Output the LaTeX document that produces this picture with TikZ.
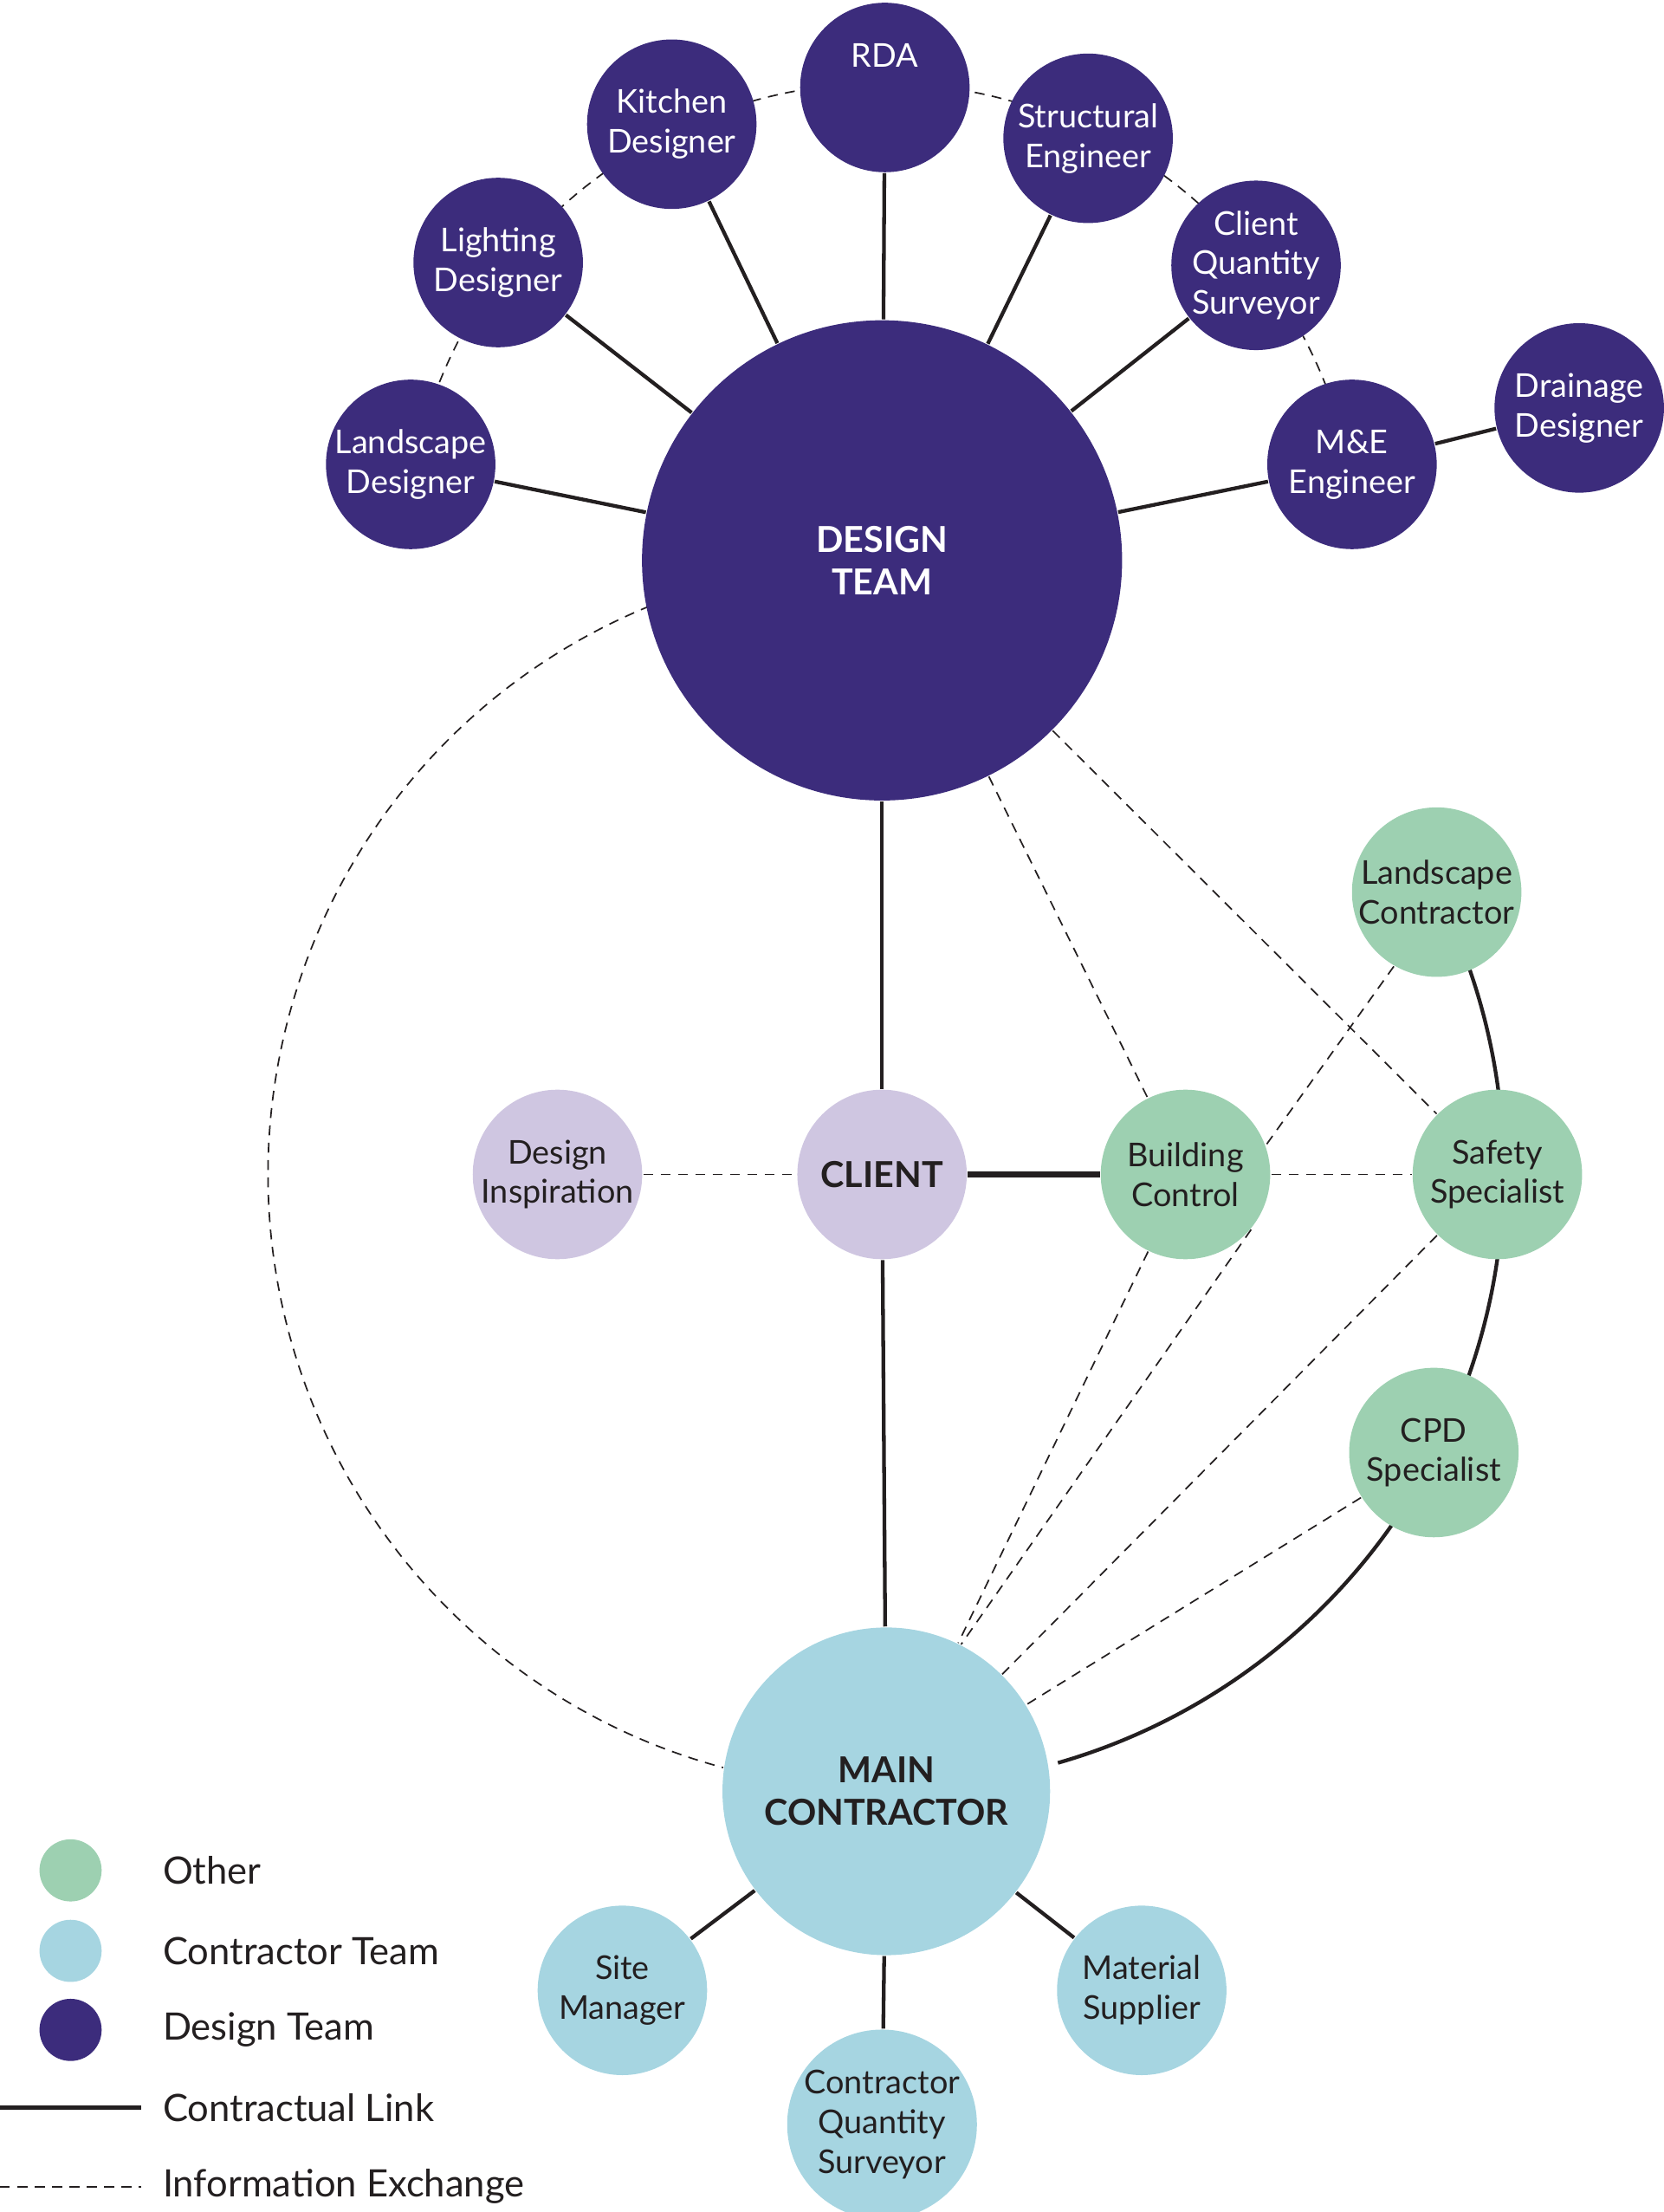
\documentclass[tikz,border=0pt]{standalone}
\usepackage{fontspec}
\setmainfont{Lato}
\definecolor{dteam}{HTML}{3C2C7C}
\definecolor{cteam}{HTML}{A6D5E1}
\definecolor{other}{HTML}{9DD0B1}
\definecolor{insp}{HTML}{CFC6E1}
\definecolor{ink}{HTML}{231F20}
\tikzset{
	blob/.style={circle,inner sep=0pt,align=center,font=\fontsize{6.6}{8}\selectfont},
	sat/.style={blob,fill=dteam,text=white,minimum size=1.2cm},
	oth/.style={blob,fill=other,text=ink,minimum size=1.2cm},
	con/.style={blob,fill=cteam,text=ink,minimum size=1.2cm},
	contract/.style={ink,line width=0.75pt},
	info/.style={ink,line width=0.3pt,dash pattern=on 2pt off 1.5pt},
	key/.style={anchor=west,font=\fontsize{7.6}{9}\selectfont,text=ink}
}
\begin{document}
\begin{tikzpicture}[x=0.01cm,y=0.01cm]
	\useasboundingbox (0,0) rectangle (1179,1567);

	% arcs behind the nodes
	\draw[info] (625,1170) ++(168.5:338) arc[start angle=168.5,end angle=11.5,radius=338];
	\draw[info] (625,735) ++(112.2:435) arc[start angle=112.2,end angle=255,radius=435];
	\draw[contract] (625,735) ++(27:441) arc[start angle=27,end angle=-74,radius=436];

	% design team
	\node[blob,fill=dteam,text=white,minimum size=3.4cm,font=\bfseries\fontsize{7.2}{8.6}\selectfont] (design) at (625,1170) {DESIGN\\TEAM};
	\node[sat] (rda) at (627,1505) {RDA\\[0.75em]};
	\node[sat] (kitchen) at (476,1479) {Kitchen\\Designer};
	\node[sat] (struct) at (771,1469) {Structural\\Engineer};
	\node[sat] (lighting) at (353,1381) {Lighting\\Designer};
	\node[sat] (cqs) at (890,1379) {Client\\Quantity\\Surveyor};
	\node[sat] (landd) at (291,1238) {Landscape\\Designer};
	\node[sat] (me) at (958,1238) {M\&E\\Engineer};
	\node[sat] (drain) at (1119,1278) {Drainage\\Designer};

	% client row
	\node[blob,fill=insp,text=ink,minimum size=1.2cm,font=\bfseries\fontsize{7.2}{8.6}\selectfont] (client) at (625,735) {CLIENT};
	\node[blob,fill=insp,text=ink,minimum size=1.2cm] (insp) at (395,735) {Design\\Inspiration};
	\node[oth] (bc) at (840,735) {Building\\Control};
	\node[oth] (safety) at (1061,735) {Safety\\Specialist};
	\node[oth] (landc) at (1018,935) {Landscape\\Contractor};
	\node[oth] (cpd) at (1016,538) {CPD\\Specialist};

	% contractor team
	\node[blob,fill=cteam,text=ink,minimum size=2.32cm,font=\bfseries\fontsize{7.2}{8.6}\selectfont] (main) at (628,298) {MAIN\\CONTRACTOR};
	\node[con] (site) at (441,157) {Site\\Manager};
	\node[con] (ctqs) at (625,62) {Contractor\\Quantity\\Surveyor};
	\node[con] (supp) at (809,157) {Material\\Supplier};

	% contractual links
	\foreach \n in {rda,kitchen,struct,lighting,cqs,landd,me}
		\draw[contract] (design) -- (\n);
	\draw[contract] (me) -- (drain);
	\draw[contract] (design) -- (client);
	\draw[contract] (client) -- (main);
	\draw[contract,line width=1.1pt] (client) -- (bc);
	\foreach \n in {site,ctqs,supp}
		\draw[contract] (main) -- (\n);

	% information exchange
	\draw[info] (insp) -- (client);
	\draw[info] (bc) -- (safety);
	\draw[info] (design) -- (bc);
	\draw[info] (design) -- (safety);
	\begin{scope}[on background layer/.style={}]
	\end{scope}
	\draw[info] (bc) -- (main);
	\draw[info] (landc.240) -- (bc.20);
	\draw[info] (bc.-40) -- (main.63);
	\draw[info] (safety) -- (main);
	\draw[info] (cpd) -- (main);

	% legend
	\node[circle,fill=other,minimum size=0.44cm,inner sep=0pt] (k1) at (50,242) {};
	\node[circle,fill=cteam,minimum size=0.44cm,inner sep=0pt] (k2) at (50,185) {};
	\node[circle,fill=dteam,minimum size=0.44cm,inner sep=0pt] (k3) at (50,129) {};
	\node[key] at (103,242) {Other};
	\node[key] at (103,185) {Contractor Team};
	\node[key] at (103,129) {Design Team};
	\coordinate (l1a) at (0,74); \coordinate (l1b) at (100,74);
	\coordinate (l2a) at (0,18); \coordinate (l2b) at (100,18);
	\draw[contract] (l1a) -- (l1b);
	\draw[info] (l2a) -- (l2b);
	\node[key] at (103,74) {Contractual Link};
	\node[key] at (103,18) {Information Exchange};
\end{tikzpicture}
\end{document}
